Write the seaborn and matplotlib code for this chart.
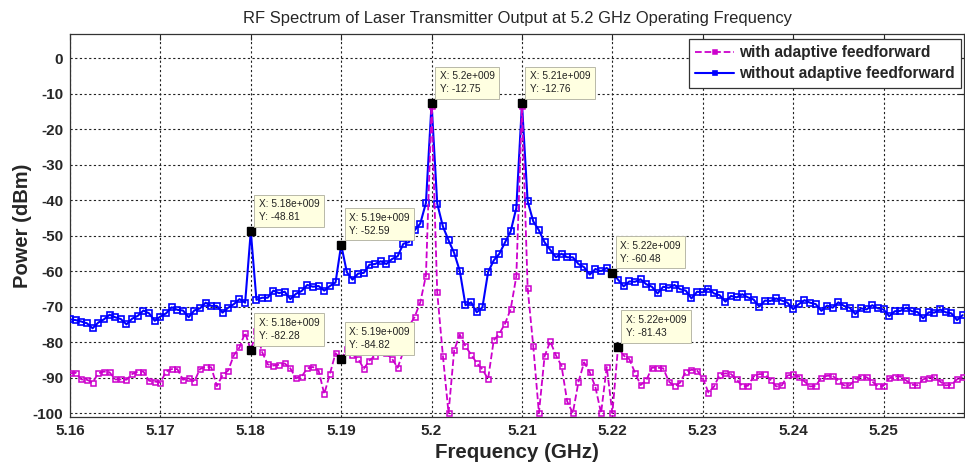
import numpy as np
import pandas as pd
import matplotlib
matplotlib.use("Agg")
import matplotlib.pyplot as plt
import seaborn as sns

# ---------------- data ----------------
f_start_ghz = 5.16
f_step_ghz = 0.000625

without_ff = [
    -73.6, -73.8, -74.2, -74.7, -76.1, -74.5, -73.6, -72.3, -73.0, -73.5,
    -75.0, -73.4, -72.6, -71.1, -71.9, -74.0, -72.8, -71.9, -70.2, -70.9,
    -71.1, -73.0, -71.1, -70.5, -68.9, -69.8, -69.8, -71.7, -70.3, -69.3,
    -67.9, -68.9, -48.81, -68.1, -67.5, -67.5, -65.5, -66.2, -65.8, -67.9,
    -66.4, -65.6, -63.9, -64.4, -64.2, -65.5, -64.2, -63.2, -52.59, -60.3,
    -62.4, -60.7, -60.5, -58.2, -58.0, -57.2, -58.0, -56.6, -55.8, -52.3,
    -51.8, -48.5, -46.6, -40.8, -12.75, -41.0, -47.4, -51.3, -54.9, -60.0,
    -69.6, -68.8, -71.6, -70.2, -60.3, -57.0, -55.1, -51.9, -48.8, -42.2,
    -12.76, -40.3, -46.0, -48.5, -51.9, -54.0, -56.1, -55.1, -56.1, -56.1,
    -58.0, -58.9, -61.0, -59.4, -60.0, -59.1, -60.48, -62.4, -64.3, -62.9,
    -63.0, -62.3, -63.7, -64.4, -66.3, -64.4, -64.7, -63.9, -65.1, -65.5,
    -67.7, -65.8, -66.0, -64.9, -66.3, -66.8, -68.6, -67.0, -67.4, -66.5,
    -67.4, -68.0, -70.0, -68.3, -68.4, -67.7, -68.3, -68.9, -70.7, -69.3,
    -68.2, -68.9, -69.3, -71.2, -69.7, -70.3, -68.8, -69.8, -70.3, -72.1,
    -70.5, -70.8, -69.6, -70.5, -70.8, -72.7, -71.3, -71.2, -70.3, -71.3,
    -71.5, -73.3, -71.6, -71.7, -70.8, -71.6, -71.9, -73.8, -72.4,
]

with_ff = [
    -88.8, -88.6, -90.5, -90.6, -91.4, -88.8, -88.3, -88.5, -90.5, -90.5,
    -90.6, -89.0, -88.3, -88.3, -90.9, -91.1, -91.4, -88.3, -87.6, -87.6,
    -90.6, -90.2, -91.1, -87.6, -86.9, -87.1, -92.4, -89.3, -88.0, -83.7,
    -81.5, -77.3, -82.28, -77.0, -82.8, -86.3, -86.6, -86.4, -86.0, -87.4,
    -90.2, -89.7, -87.4, -87.0, -88.0, -94.6, -89.0, -83.1, -84.82, -82.0,
    -83.5, -84.7, -87.5, -85.2, -83.8, -82.8, -83.2, -84.7, -87.2, -82.7,
    -75.5, -72.9, -68.8, -61.3, -13.5, -66.0, -83.8, -100.0, -82.3, -77.9,
    -81.2, -83.5, -85.9, -87.7, -90.4, -79.5, -77.6, -74.8, -70.7, -61.5,
    -13.5, -64.7, -81.2, -100.0, -84.0, -79.8, -83.7, -86.7, -96.7, -100.0,
    -91.2, -85.7, -88.5, -92.7, -100.0, -87.0, -100.0, -81.43, -83.8, -84.8,
    -88.6, -92.1, -90.8, -87.2, -87.2, -87.4, -91.1, -92.5, -91.4, -88.3,
    -87.8, -88.0, -90.2, -94.2, -92.5, -89.2, -88.8, -89.0, -90.5, -92.5,
    -92.3, -89.7, -89.0, -89.1, -90.6, -92.5, -92.2, -89.4, -89.1, -89.7,
    -91.1, -92.5, -92.3, -90.0, -89.5, -89.5, -90.9, -92.2, -92.2, -90.5,
    -89.7, -89.9, -91.1, -92.5, -92.3, -90.2, -89.7, -89.7, -90.8, -92.0,
    -92.2, -90.5, -90.0, -89.9, -91.1, -92.2, -92.0, -90.5, -89.9,
]

series_labels = ["with adaptive feedforward", "without adaptive feedforward"]

# data tips: (series, sample index, X label)
tip_series = ["without", "without", "without", "without", "without", "with", "with", "with"]
tip_index = [32, 48, 64, 80, 96, 32, 48, 97]
tip_xlabel = ["5.18e+009", "5.19e+009", "5.2e+009", "5.21e+009", "5.22e+009",
              "5.18e+009", "5.19e+009", "5.22e+009"]

x_ticks = [5.16, 5.17, 5.18, 5.19, 5.20, 5.21, 5.22, 5.23, 5.24, 5.25]
x_tick_labels = ["5.16", "5.17", "5.18", "5.19", "5.2", "5.21", "5.22", "5.23", "5.24", "5.25"]
y_ticks = [0, -10, -20, -30, -40, -50, -60, -70, -80, -90, -100]

# ---------------- figure ----------------
sns.set_style("white")
plt.rcParams["font.family"] = ["Liberation Sans", "DejaVu Sans"]

n = len(without_ff)
freq = f_start_ghz + f_step_ghz * np.arange(n)
df = pd.DataFrame({"freq": freq, "without": without_ff, "with": with_ff[:n]})

W, H = 965, 463
fig = plt.figure(figsize=(W / 100, H / 100), dpi=100)
ax = fig.add_axes([70 / W, 1 - 417 / H, (964 - 70) / W, (417 - 34) / H])

blue = "#0000FF"
mag = "#CC00CC"

sns.lineplot(data=df, x="freq", y="without", ax=ax, color=blue, lw=1.5,
             marker="s", ms=3.8, mfc="none", mec=blue, mew=1.2,
             label=series_labels[1], zorder=3)
sns.lineplot(data=df, x="freq", y="with", ax=ax, color=mag, lw=1.3,
             linestyle="--", dashes=(3, 1.8), marker="s", ms=3.6, mfc="none",
             mec=mag, mew=1.1, label=series_labels[0], zorder=4)

# data tips
for s, i, xl in zip(tip_series, tip_index, tip_xlabel):
    yv = df[s].iloc[i]
    xv = df["freq"].iloc[i]
    ax.plot([xv], [yv], marker="s", ms=6, color="black", zorder=6, ls="none")
    ax.annotate(f"X: {xl}\nY: {yv:.2f}", xy=(xv, yv), xytext=(8, 9),
                textcoords="offset pixels", ha="left", va="bottom",
                fontsize=7.3, color="#222222", linespacing=1.4, zorder=7,
                bbox=dict(boxstyle="square,pad=0.45", fc="#FFFFE1",
                          ec="#B8B8A8", lw=0.7))

ax.set_xlim(5.16, 5.2589)
ax.set_ylim(-101.1, 6.8)
ax.set_xticks(x_ticks)
ax.set_xticklabels(x_tick_labels)
ax.set_yticks(y_ticks)
ax.set_yticklabels([str(v) for v in y_ticks])
for lab in ax.get_xticklabels() + ax.get_yticklabels():
    lab.set_fontweight("bold")
    lab.set_fontsize(11)

ax.tick_params(direction="in", top=True, right=True, length=4, width=0.8, pad=5)
ax.grid(True, color="#222222", linestyle=(0, (2, 2.2)), linewidth=0.8)
for sp in ax.spines.values():
    sp.set_visible(True)
    sp.set_color("#333333")
    sp.set_linewidth(0.9)

ax.set_xlabel("Frequency (GHz)", fontsize=14.8, fontweight="bold", labelpad=4)
ax.set_ylabel("Power (dBm)", fontsize=14.5, fontweight="bold", labelpad=0)
ax.set_title("RF Spectrum of Laser Transmitter Output at 5.2 GHz Operating Frequency",
             fontsize=11.9, pad=8)

handles, labels = ax.get_legend_handles_labels()
order = [labels.index(series_labels[0]), labels.index(series_labels[1])]
leg = ax.legend([handles[k] for k in order], [labels[k] for k in order],
                loc="upper right", bbox_to_anchor=(1.0, 0.995), fancybox=False,
                framealpha=1, edgecolor="#333333", prop=dict(weight="bold", size=11.2),
                handlelength=2.5, handletextpad=0.3, borderpad=0.4,
                labelspacing=0.4, borderaxespad=0.2)
leg.get_frame().set_linewidth(0.9)
for h in leg.legend_handles:
    h.set_markerfacecolor(h.get_color())
    h.set_markersize(3)

fig.savefig("out.png", dpi=100)
